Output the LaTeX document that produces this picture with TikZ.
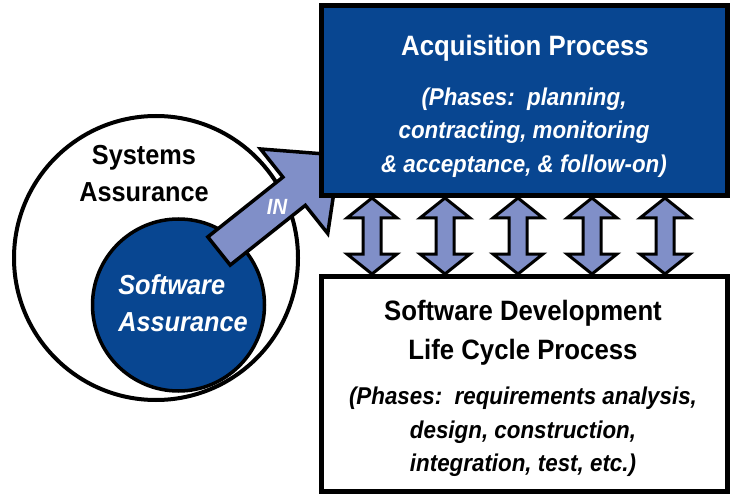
\documentclass[tikz,border=0pt]{standalone}
\usepackage{fontspec}
\setmainfont{Liberation Sans}
\newfontfamily\narrowsans[FakeStretch=0.92]{Liberation Sans}
\definecolor{acqblue}{RGB}{8,70,145}
\definecolor{arrowfill}{RGB}{128,143,200}
\begin{document}
\begin{tikzpicture}[x=1pt,y=-1pt,
  boxstyle/.style={draw=black, line width=5pt, inner sep=0pt, minimum width=406pt},
  ringstyle/.style={circle, draw=black, inner sep=0pt},
  fatarrow/.style={draw=black, fill=arrowfill, line width=3pt, line join=miter},
  titlefont/.style={font=\narrowsans\fontsize{28}{39}\selectfont\bfseries},
  phasefont/.style={font=\narrowsans\fontsize{24.3}{33.5}\selectfont\bfseries\itshape},
  leftfont/.style={font=\narrowsans\fontsize{27.5}{37}\selectfont\bfseries}]
\useasboundingbox (0,0) rectangle (730,494);
\fill[white] (0,0) rectangle (730,494);

% circles
\node[ringstyle, line width=4pt, fill=white, minimum size=284pt] (sys) at (156,258) {};
\node[ringstyle, line width=3.5pt, fill=acqblue, minimum size=172pt] (sw) at (178.5,305) {};

% IN arrow
\begin{scope}[shift={(219,251)}, rotate=38.5]
  \coordinate (intail) at (0,0);
  \draw[fatarrow, line width=3.5pt] (0,-18) -- (96,-18) -- (96,-54) -- (154,0) -- (96,54) -- (96,18) -- (0,18) -- cycle;
\end{scope}

% boxes
\node[boxstyle, fill=acqblue, minimum height=190pt] (acq) at (524,101) {};
\node[boxstyle, fill=white, minimum height=215pt] (sdlc) at (524,383.5) {};

% double arrows between the boxes
\foreach \i/\x in {1/372,2/445,3/518,4/592,5/665}{
  \coordinate (top\i) at (\x,198);
  \coordinate (bot\i) at (\x,274);
  \draw[fatarrow] (top\i) -- ++(25,20) -- ++(-16,0) -- ++(0,36) -- ++(16,0)
     -- (bot\i) -- ++(-25,-20) -- ++(16,0) -- ++(0,-36) -- ++(-16,0) -- cycle;
}

% texts
\node[titlefont, text=white] (acqtitle) at (525,48) {Acquisition Process};
\node[phasefont, text=white, align=center] (acqphases) at (524,132.5)
  {(Phases:\ \ planning,\\contracting, monitoring\\\& acceptance, \& follow-on)};
\node[titlefont, align=center] (sdlctitle) at (523,333)
  {Software Development\\Life Cycle Process};
\node[phasefont, align=center] (sdlcphases) at (523,432)
  {(Phases:\ \ requirements analysis,\\design, construction,\\integration, test, etc.)};
\node[leftfont, align=center] (systext) at (144,173.5) {Systems\\Assurance};
\node[leftfont, text=white, align=left, font=\narrowsans\fontsize{27.5}{37}\selectfont\bfseries\itshape] (swtext) at (183,303.5) {Software\\Assurance};
\node[text=white, font=\narrowsans\fontsize{22}{24}\selectfont\bfseries\itshape] (intext) at (277,207) {IN};
\end{tikzpicture}
\end{document}
